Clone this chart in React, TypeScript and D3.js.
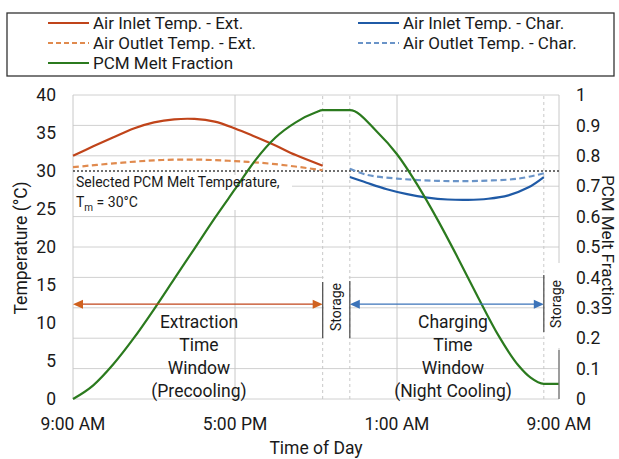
import React from "react";
import * as d3 from "d3";

// hours after 9:00 AM
const hourTicks = [0, 8, 16, 24];
const hourLabels = ["9:00 AM", "5:00 PM", "1:00 AM", "9:00 AM"];
const tempTicks = [0, 5, 10, 15, 20, 25, 30, 35, 40];
const fracTicks = [0, 0.1, 0.2, 0.3, 0.4, 0.5, 0.6, 0.7, 0.8, 0.9, 1];
const windowMarks = [12.33, 13.67, 23.25];
const meltTemp = 30;

const extTime = [0, 1, 2, 3, 4, 5, 6, 7, 8, 9, 10, 11, 12.33];
const inletExt = [32.0, 33.25, 34.45, 35.6, 36.4, 36.8, 36.85, 36.5, 35.6, 34.5, 33.35, 32.1, 30.7];

const outletExtTime = [0, 2, 4, 6, 8, 10, 12.33];
const outletExt = [30.5, 31.0, 31.4, 31.5, 31.3, 30.9, 30.1];

const charTime = [13.67, 14.5, 15.5, 16.5, 17.5, 18.5, 19.5, 20.5, 21.5, 22.5, 23.25];
const inletChar = [29.2, 28.45, 27.6, 26.95, 26.5, 26.25, 26.2, 26.35, 26.8, 27.85, 29.2];

const outletCharTime = [13.67, 14.5, 16, 18, 20, 22, 23.25];
const outletChar = [30.3, 29.5, 29.0, 28.7, 28.7, 29.0, 29.7];

const meltTime = [0, 1, 2, 3, 4, 5, 6, 7, 8, 9, 10, 11, 12, 12.33, 13.67, 15, 16, 17, 18, 19, 20, 21, 22, 22.6, 23.25, 24];
const melt = [0, 0.045, 0.115, 0.2, 0.295, 0.395, 0.495, 0.595, 0.69, 0.785, 0.86, 0.91, 0.943, 0.95, 0.95, 0.88, 0.805, 0.705, 0.59, 0.465, 0.335, 0.21, 0.11, 0.07, 0.05, 0.05];

const colors = {
  inletExt: "#c0441a",
  outletExt: "#e08a4e",
  inletChar: "#1f5aa6",
  outletChar: "#6a94c8",
  melt: "#2b7a1e",
};

const font = "Roboto, sans-serif";
const W = 619;
const H = 459;
const margin = { top: 95, right: 60, bottom: 60, left: 73 };

export default function App() {
  const x = d3.scaleLinear().domain([0, 24]).range([margin.left, W - margin.right]);
  const yT = d3.scaleLinear().domain([0, 40]).range([H - margin.bottom, margin.top]);
  const yF = d3.scaleLinear().domain([0, 1]).range([H - margin.bottom, margin.top]);

  const line = (ts: number[], vs: number[], y: d3.ScaleLinear<number, number>, curve: d3.CurveFactory) =>
    d3
      .line<number>()
      .x((_, i) => x(ts[i]))
      .y((v) => y(v))
      .curve(curve)(vs) as string;

  const arrowY = yF(0.312);
  const arrowHead = (px: number, dir: number, c: string) => (
    <path d={`M${px},${arrowY} l${-dir * 10},-4.5 l0,9 z`} fill={c} />
  );

  const legend = [
    { label: "Air Inlet Temp. - Ext.", c: colors.inletExt, dash: null, lx: 48, row: 0 },
    { label: "Air Inlet Temp. - Char.", c: colors.inletChar, dash: null, lx: 358, row: 0 },
    { label: "Air Outlet Temp. - Ext.", c: colors.outletExt, dash: "5,3", lx: 48, row: 1 },
    { label: "Air Outlet Temp. - Char.", c: colors.outletChar, dash: "5,3", lx: 358, row: 1 },
    { label: "PCM Melt Fraction", c: colors.melt, dash: null, lx: 48, row: 2 },
  ];

  const x0 = x(0);
  const x1 = x(24);
  const ink = "#1a1a1a";

  return (
    <svg width={W} height={H} style={{ position: "absolute", left: 0, top: 0, background: "#fff" }} fontFamily={font}>
      {/* legend */}
      <rect x={7} y={13} width={607} height={63} fill="none" stroke="#333" strokeWidth={1.3} />
      {legend.map((d) => (
        <g key={d.label}>
          <line x1={d.lx} x2={d.lx + 41} y1={23 + d.row * 20} y2={23 + d.row * 20} stroke={d.c} strokeWidth={2.2} strokeDasharray={d.dash || undefined} />
          <text x={d.lx + 45} y={23 + d.row * 20} dy="0.35em" fontSize={17} fill={ink}>{d.label}</text>
        </g>
      ))}

      {/* gridlines */}
      {fracTicks.map((t) => (
        <line key={"h" + t} x1={x0} x2={x1} y1={yF(t)} y2={yF(t)} stroke="#d0d0d0" strokeWidth={1} />
      ))}
      {hourTicks.map((t) => (
        <line key={"v" + t} x1={x(t)} x2={x(t)} y1={yF(0)} y2={yF(1)} stroke="#c8c8c8" strokeWidth={1} />
      ))}
      {windowMarks.map((t) => (
        <line key={"w" + t} x1={x(t)} x2={x(t)} y1={yF(0)} y2={yF(1)} stroke="#c8c8c8" strokeWidth={1} strokeDasharray="3,3" />
      ))}

      {/* white boxes behind labels */}
      <rect x={74} y={175} width={218} height={35} fill="#fff" />
      <rect x={x(12.33) + 1} y={270} width={x(13.67) - x(12.33) - 2} height={70} fill="#fff" />
      <rect x={x(23.25) + 1} y={263} width={22} height={85} fill="#fff" />

      {/* melt temperature */}
      <line x1={x0} x2={x1} y1={yT(meltTemp)} y2={yT(meltTemp)} stroke="#404040" strokeWidth={1.5} strokeDasharray="2,2" />

      {/* series */}
      <path d={line(outletExtTime, outletExt, yT, d3.curveCatmullRom)} fill="none" stroke={colors.outletExt} strokeWidth={2.2} strokeDasharray="6,3.5" />
      <path d={line(outletCharTime, outletChar, yT, d3.curveCatmullRom)} fill="none" stroke={colors.outletChar} strokeWidth={2.2} strokeDasharray="6,3.5" />
      <path d={line(extTime, inletExt, yT, d3.curveCatmullRom)} fill="none" stroke={colors.inletExt} strokeWidth={2.2} />
      <path d={line(charTime, inletChar, yT, d3.curveCatmullRom)} fill="none" stroke={colors.inletChar} strokeWidth={2.2} />
      <path d={line(meltTime, melt, yF, d3.curveMonotoneX)} fill="none" stroke={colors.melt} strokeWidth={2.2} />

      {/* time window arrows */}
      <line x1={x0 + 8} x2={x(12.33) - 8} y1={arrowY} y2={arrowY} stroke={colors.inletExt} strokeWidth={1.3} />
      {arrowHead(x0, -1, "#d0611e")}
      {arrowHead(x(12.33), 1, "#d0611e")}
      <line x1={x(13.67) + 8} x2={x(23.25) - 8} y1={arrowY} y2={arrowY} stroke="#3b73b9" strokeWidth={1.3} />
      {arrowHead(x(13.67), -1, "#3b73b9")}
      {arrowHead(x(23.25), 1, "#3b73b9")}

      {/* brackets */}
      <line x1={x(12.33)} x2={x(12.33)} y1={282} y2={338} stroke="#555" strokeWidth={1.3} />
      <line x1={x(13.67)} x2={x(13.67)} y1={281} y2={338} stroke="#555" strokeWidth={1.3} />
      <line x1={x(23.25)} x2={x(23.25)} y1={275} y2={332} stroke="#555" strokeWidth={1.3} />
      <line x1={x1} x2={x1} y1={350} y2={yF(0)} stroke="#777" strokeWidth={1.3} />

      {/* annotations */}
      <text x={76} y={182} dy="0.35em" fontSize={14} fill={ink}>Selected PCM Melt Temperature,</text>
      <text x={76} y={202} dy="0.35em" fontSize={14} fill={ink}>
        T<tspan fontSize={10} dy={4}>m</tspan><tspan dy={-4}> = 30°C</tspan>
      </text>
      {["Extraction", "Time", "Window", "(Precooling)"].map((s, i) => (
        <text key={s} x={199} y={322 + i * 23} dy="0.35em" fontSize={17.5} textAnchor="middle" fill={ink}>{s}</text>
      ))}
      {["Charging", "Time", "Window", "(Night Cooling)"].map((s, i) => (
        <text key={s + i} x={453} y={322 + i * 23} dy="0.35em" fontSize={17.5} textAnchor="middle" fill={ink}>{s}</text>
      ))}
      <text transform={`translate(${(x(12.33) + x(13.67)) / 2},307) rotate(-90)`} dy="0.35em" fontSize={14} textAnchor="middle" fill={ink}>Storage</text>
      <text transform={`translate(556,304) rotate(-90)`} dy="0.35em" fontSize={14} textAnchor="middle" fill={ink}>Storage</text>

      {/* axes labels */}
      {tempTicks.map((t) => (
        <text key={"lt" + t} x={56} y={yT(t)} dy="0.35em" fontSize={17.5} textAnchor="end" fill={ink}>{t}</text>
      ))}
      {fracTicks.map((t) => (
        <text key={"rt" + t} x={576} y={yF(t)} dy="0.35em" fontSize={17.5} fill={ink}>{t}</text>
      ))}
      {hourTicks.map((t, i) => (
        <text key={"xt" + t} x={x(t)} y={430} fontSize={17.5} textAnchor="middle" fill={ink}>{hourLabels[i]}</text>
      ))}
      <text x={(x0 + x1) / 2} y={454} fontSize={17.5} textAnchor="middle" fill={ink}>Time of Day</text>
      <text transform={`translate(27,248) rotate(-90)`} fontSize={17.5} textAnchor="middle" fill={ink}>Temperature (°C)</text>
      <text transform={`translate(602,245) rotate(90)`} fontSize={17} textAnchor="middle" fill={ink}>PCM Melt Fraction</text>
    </svg>
  );
}
